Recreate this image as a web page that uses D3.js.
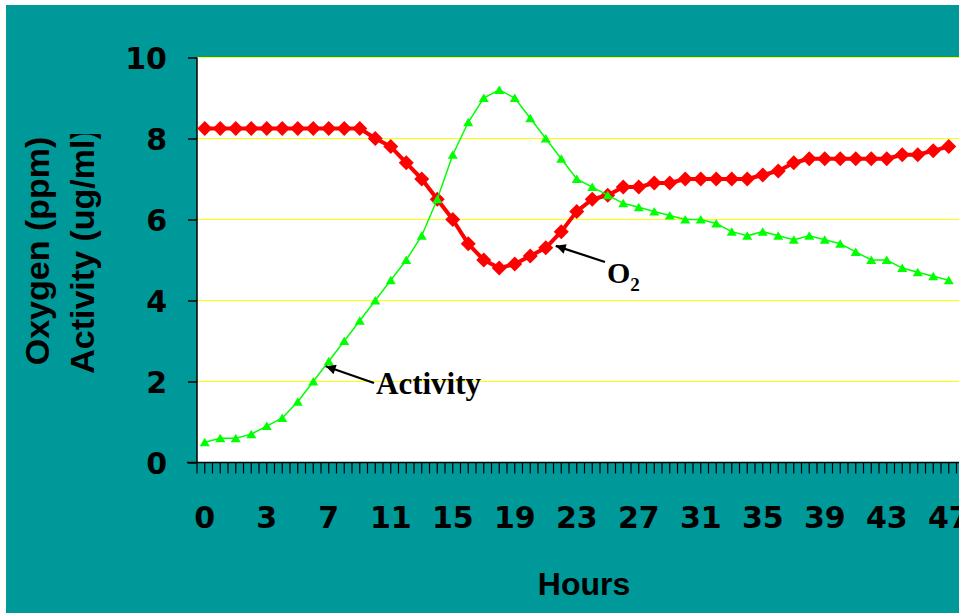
<!DOCTYPE html>
<html>
<head>
<meta charset="utf-8">
<script src="https://cdn.jsdelivr.net/npm/d3@7/dist/d3.min.js"></script>
<style>
  html, body { margin: 0; padding: 0; background: #ffffff; }
  svg { display: block; }
</style>
</head>
<body>
<svg id="chart" width="959" height="613"></svg>
<script>
// ---- data ----
const categories = ["0","0.5","1","2","3","4","5","6","7","8","9","10","11","12","13","14","15","16","17","18","19","20","21","22","23","24","25","26","27","28","29","30","31","32","33","34","35","36","37","38","39","40","41","42","43","44","45","46","47"];
const oxygen = [8.25,8.25,8.25,8.25,8.25,8.25,8.25,8.25,8.25,8.25,8.25,8.0,7.8,7.4,7.0,6.5,6.0,5.4,5.0,4.8,4.9,5.1,5.3,5.7,6.2,6.5,6.6,6.8,6.8,6.9,6.9,7.0,7.0,7.0,7.0,7.0,7.1,7.2,7.4,7.5,7.5,7.5,7.5,7.5,7.5,7.6,7.6,7.7,7.8];
const activity = [0.5,0.6,0.6,0.7,0.9,1.1,1.5,2.0,2.5,3.0,3.5,4.0,4.5,5.0,5.6,6.5,7.6,8.4,9.0,9.2,9.0,8.5,8.0,7.5,7.0,6.8,6.6,6.4,6.3,6.2,6.1,6.0,6.0,5.9,5.7,5.6,5.7,5.6,5.5,5.6,5.5,5.4,5.2,5.0,5.0,4.8,4.7,4.6,4.5];
const yTicks = [0,2,4,6,8,10];
const xLabelEvery = 4;
const yTitleLines = ["Oxygen (ppm)", "Activity (ug/ml)"];
const xTitle = "Hours";

// ---- layout ----
const svg = d3.select("#chart");
const W = 959, H = 613;
const plotL = 197, plotR = 956.5, plotT = 57.5, plotB = 462.5;
const teal = "#009999";

svg.append("rect").attr("x",0).attr("y",0).attr("width",W).attr("height",H).attr("fill","#ffffff");
svg.append("rect").attr("x",6).attr("y",5).attr("width",W-6).attr("height",H-5).attr("fill",teal);

const x = d3.scaleBand().domain(categories).range([plotL, plotR]).paddingInner(0).paddingOuter(0);
const cx = c => x(c) + x.bandwidth()/2;
const y = d3.scaleLinear().domain([0,10]).range([plotB, plotT]);

// plot area
svg.append("rect").attr("x",plotL).attr("y",plotT).attr("width",W - plotL).attr("height",plotB-plotT).attr("fill","#ffffff");

// gridlines
svg.append("g").selectAll("line").data(yTicks.filter(v => v > 0)).join("line")
  .attr("x1", plotL).attr("x2", W)
  .attr("y1", d => Math.floor(y(d)) + 0.5).attr("y2", d => Math.floor(y(d)) + 0.5)
  .attr("stroke", "#ffff00").attr("stroke-width", 1.5).attr("shape-rendering","crispEdges");

// y axis
const yAxis = svg.append("g").attr("transform", `translate(${plotL},0)`)
  .call(d3.axisLeft(y).tickValues(yTicks).tickSize(9).tickPadding(21).tickFormat(d3.format("d")));
yAxis.select(".domain").attr("stroke","#000").attr("stroke-width",1.5).attr("d", `M0,${plotT}V${plotB}`);
yAxis.selectAll(".tick line").attr("stroke","#000").attr("stroke-width",1.5);
yAxis.selectAll(".tick text")
  .attr("font-family","'DejaVu Sans', sans-serif").attr("font-weight","bold").attr("font-size",30)
  .attr("fill","#000").attr("dy", "0.36em");

// x axis: minor ticks every half category
const step = x.step();
const halfTicks = d3.range(0, categories.length*2 + 1).map(k => plotL + k*step/2);
svg.append("g").selectAll("line").data(halfTicks).join("line")
  .attr("x1", d => d).attr("x2", d => d)
  .attr("y1", plotB).attr("y2", plotB + 11)
  .attr("stroke","#000").attr("stroke-width",1.2);
svg.append("line").attr("x1", plotL - 10).attr("x2", W).attr("y1", plotB).attr("y2", plotB)
  .attr("stroke","#000").attr("stroke-width",1.5);

const xAxis = svg.append("g").attr("transform", `translate(0,${plotB})`)
  .call(d3.axisBottom(x).tickValues(categories.filter((c,i) => i % xLabelEvery === 0)).tickSize(0));
xAxis.select(".domain").remove();
xAxis.selectAll(".tick text")
  .attr("font-family","'DejaVu Sans', sans-serif").attr("font-weight","bold").attr("font-size",30)
  .attr("fill","#000").attr("y", 65.5).attr("dy", 0);

// axis titles
svg.append("text").attr("x", 584).attr("y", 595).attr("text-anchor","middle")
  .attr("font-family","'Liberation Sans', Arial, sans-serif").attr("font-weight","bold").attr("font-size",32)
  .attr("fill","#000").text(xTitle);

const defs = svg.append("defs");
defs.append("clipPath").attr("id","ytclip").append("rect").attr("x",0).attr("y",134).attr("width",150).attr("height",400);
const yTitle = svg.append("g").attr("clip-path","url(#ytclip)");
yTitle.selectAll("text").data(yTitleLines).join("text")
  .attr("transform", (d,i) => `translate(${49 + i*45},251) rotate(-90)`)
  .attr("text-anchor","middle")
  .attr("font-family","'Liberation Sans', Arial, sans-serif").attr("font-weight","bold").attr("font-size",34)
  .attr("fill","#000").text(d => d);

// series
const oxData = categories.map((c,i) => ({c, v: oxygen[i]}));
const acData = categories.map((c,i) => ({c, v: activity[i]}));
const line = d3.line().x(d => cx(d.c)).y(d => y(d.v));

svg.append("path").datum(oxData).attr("d", line).attr("fill","none")
  .attr("stroke","#ff0000").attr("stroke-width",4).attr("stroke-linejoin","round");
svg.append("g").selectAll("path").data(oxData).join("path")
  .attr("d", d => { const X = cx(d.c), Y = y(d.v), r = 7.5; return `M${X},${Y-r}L${X+r},${Y}L${X},${Y+r}L${X-r},${Y}Z`; })
  .attr("fill","#ff0000");

svg.append("path").datum(acData).attr("d", line).attr("fill","none")
  .attr("stroke","#00ff00").attr("stroke-width",1.5);
svg.append("g").selectAll("path").data(acData).join("path")
  .attr("d", d => { const X = cx(d.c), Y = y(d.v); return `M${X},${Y-4.5}L${X+5},${Y+4}L${X-5},${Y+4}Z`; })
  .attr("fill","#00ff00");

// annotations
defs.append("marker").attr("id","ah").attr("viewBox","0 0 10 10").attr("refX",10).attr("refY",5)
  .attr("markerWidth",5).attr("markerHeight",4.5).attr("markerUnits","strokeWidth").attr("orient","auto")
  .append("path").attr("d","M0,0L10,5L0,10Z").attr("fill","#000");

const acTip = [cx(categories[8]) - 3, y(activity[8]) + 5];
svg.append("line").attr("x1", 374).attr("y1", 383).attr("x2", acTip[0]).attr("y2", acTip[1])
  .attr("stroke","#000").attr("stroke-width",2.2).attr("marker-end","url(#ah)");
svg.append("text").attr("x", 376).attr("y", 394)
  .attr("font-family","'Liberation Serif', 'Times New Roman', serif").attr("font-weight","bold").attr("font-size",31)
  .attr("fill","#000").text("Activity");

const oxTip = [cx(categories[22]) + 10, y(oxygen[22]) - 2];
svg.append("line").attr("x1", 605).attr("y1", 262).attr("x2", oxTip[0]).attr("y2", oxTip[1])
  .attr("stroke","#000").attr("stroke-width",2.2).attr("marker-end","url(#ah)");
const o2 = svg.append("text").attr("x", 607).attr("y", 283)
  .attr("font-family","'Liberation Serif', 'Times New Roman', serif").attr("font-weight","bold").attr("font-size",30)
  .attr("fill","#000");
o2.append("tspan").text("O");
o2.append("tspan").attr("font-size",19).attr("dy",8).text("2");
</script>
</body>
</html>
